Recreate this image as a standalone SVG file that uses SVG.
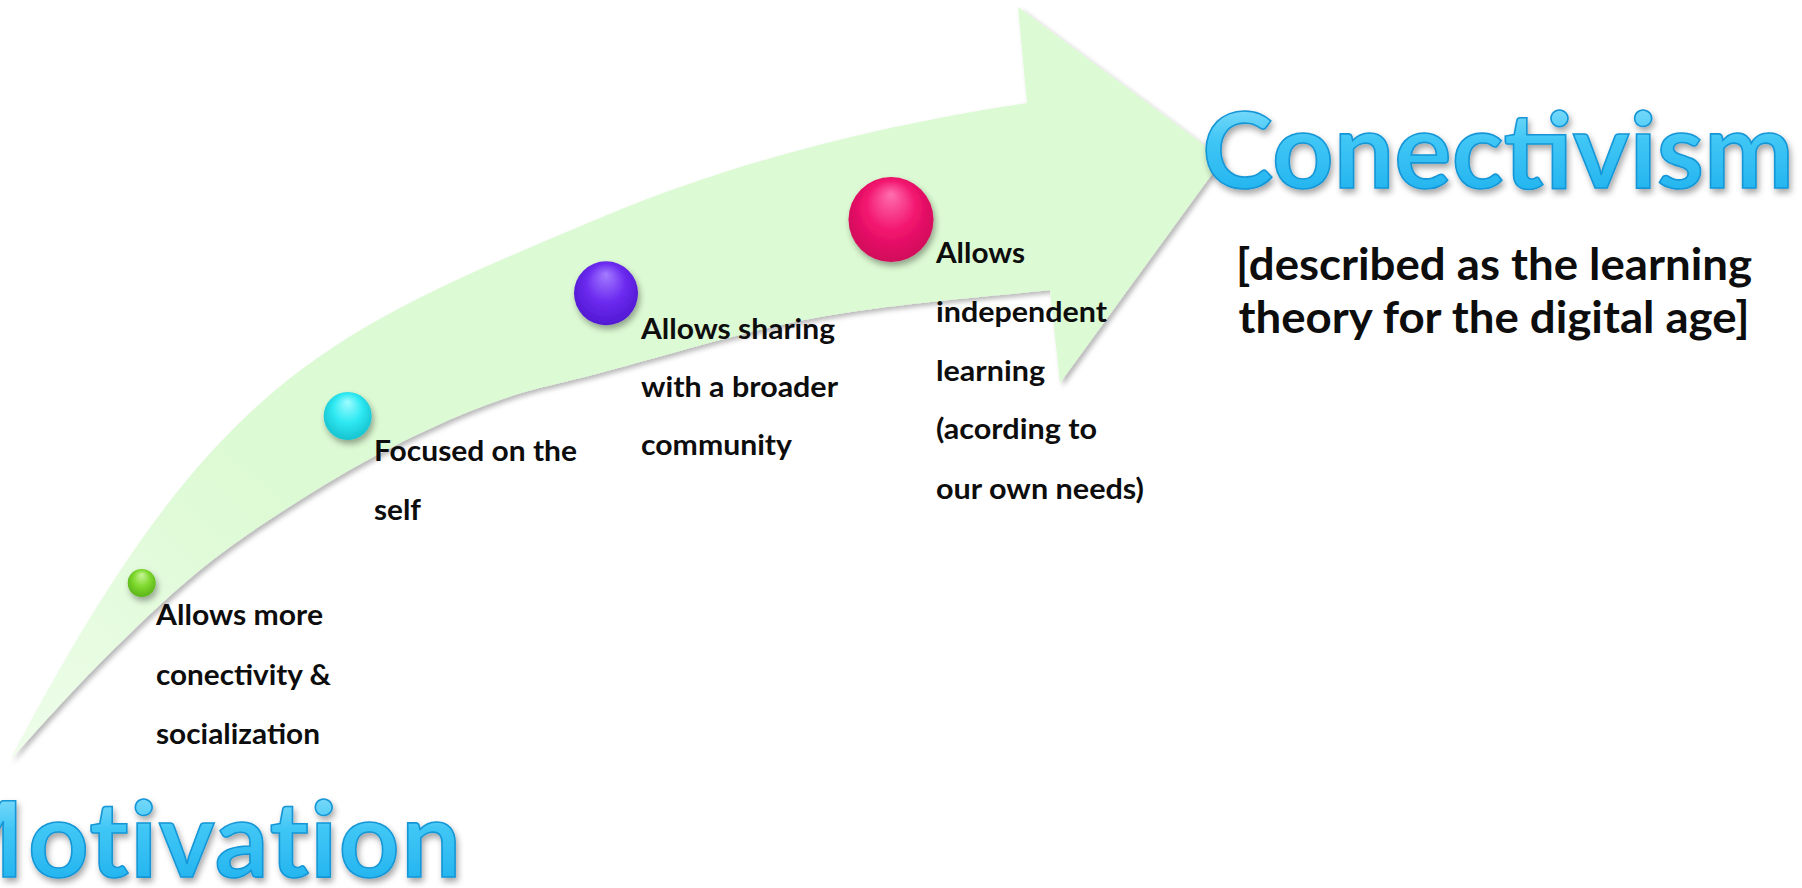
<svg xmlns="http://www.w3.org/2000/svg" width="1802" height="888" viewBox="0 0 1802 888">
<defs>
<style>
.lbl{font-family:Lato,"Open Sans","Liberation Sans",sans-serif;font-weight:700;font-size:29px;fill:#0d0d0d}
.sub{font-family:Lato,"Open Sans","Liberation Sans",sans-serif;font-weight:700;font-size:43px;fill:#0d0d0d}
.title{font-family:Lato,"Open Sans","Liberation Sans",sans-serif;font-weight:700;font-size:106px;fill:url(#blueGrad);stroke:#1496d6;stroke-width:1.6;filter:url(#txtShadow)}
</style>
<linearGradient id="blueGrad" x1="0" y1="0" x2="0" y2="1">
<stop offset="0" stop-color="#a6e8fd"/>
<stop offset="0.45" stop-color="#3fc6f5"/>
<stop offset="1" stop-color="#1aaeee"/>
</linearGradient>
<linearGradient id="bandGrad" gradientUnits="userSpaceOnUse" x1="10" y1="760" x2="260" y2="470">
<stop offset="0" stop-color="#eefdea"/>
<stop offset="1" stop-color="#dcfad3"/>
</linearGradient>
<filter id="arrowShadow" x="-5%" y="-5%" width="110%" height="115%">
<feDropShadow dx="3" dy="3" stdDeviation="2.5" flood-color="#000" flood-opacity="0.28"/>
</filter>
<filter id="txtShadow" x="-5%" y="-10%" width="110%" height="130%">
<feDropShadow dx="2" dy="4" stdDeviation="3" flood-color="#000" flood-opacity="0.35"/>
</filter>
<filter id="dotShadow" x="-40%" y="-40%" width="180%" height="180%">
<feDropShadow dx="2" dy="4" stdDeviation="3" flood-color="#000" flood-opacity="0.35"/>
</filter>
<radialGradient id="gGreen" cx="0.5" cy="0.45" r="0.55" fx="0.5" fy="0.2">
<stop offset="0" stop-color="#c8f59a"/><stop offset="0.55" stop-color="#7fd92e"/><stop offset="1" stop-color="#5cb51a"/>
</radialGradient>
<radialGradient id="gCyan" cx="0.5" cy="0.45" r="0.55" fx="0.5" fy="0.2">
<stop offset="0" stop-color="#9ffcff"/><stop offset="0.55" stop-color="#2fe9f2"/><stop offset="1" stop-color="#17c3d0"/>
</radialGradient>
<radialGradient id="gPurple" cx="0.5" cy="0.45" r="0.55" fx="0.5" fy="0.2">
<stop offset="0" stop-color="#a47cff"/><stop offset="0.55" stop-color="#6c2bf0"/><stop offset="1" stop-color="#5218d2"/>
</radialGradient>
<radialGradient id="gPink" cx="0.5" cy="0.45" r="0.55" fx="0.5" fy="0.2">
<stop offset="0" stop-color="#ff6fae"/><stop offset="0.55" stop-color="#f2146e"/><stop offset="1" stop-color="#d00a5a"/>
</radialGradient>
</defs>
<rect width="1802" height="888" fill="#ffffff"/>

<g id="connectors">
<path id="arrow" filter="url(#arrowShadow)" fill="url(#bandGrad)" d="M10,760 C210,380 320,335.6 600,218 C740,159.2 887,124 1027,103 L1018,7 L1223,159 L1060,383 L1050,290 C1011.7,294.5 895,303.2 820,317 C745,330.8 653.3,359.2 600,373 C546.7,386.8 533.3,388.3 500,400 C466.7,411.7 433.3,426.3 400,443 C366.7,459.7 333.3,478.8 300,500 C266.7,521.2 233.3,542.8 200,570 C166.7,597.2 131.7,631.3 100,663 C68.3,694.7 25,743.8 10,760 Z"/>
</g>

<g id="node-motivation">
<text class="title" x="-76 28" y="877" letter-spacing="1.5">Motivation</text>
</g>

<g id="node-conectivism">
<text class="title" x="1202" y="188" textLength="592" lengthAdjust="spacingAndGlyphs">Conectivism</text>
<text class="sub" x="1494" y="280" text-anchor="middle" textLength="516" lengthAdjust="spacingAndGlyphs">[described as the learning</text>
<text class="sub" x="1494" y="333" text-anchor="middle" textLength="511" lengthAdjust="spacingAndGlyphs">theory for the digital age]</text>
</g>

<g id="node-1">
<circle cx="141.7" cy="583" r="14" fill="url(#gGreen)" filter="url(#dotShadow)"/>
<text class="lbl" x="156" y="625" textLength="167" lengthAdjust="spacingAndGlyphs">Allows more</text>
<text class="lbl" x="156" y="685" textLength="175" lengthAdjust="spacingAndGlyphs">conectivity &amp;</text>
<text class="lbl" x="156" y="744" textLength="164" lengthAdjust="spacingAndGlyphs">socialization</text>
</g>

<g id="node-2">
<circle cx="347.7" cy="416" r="24" fill="url(#gCyan)" filter="url(#dotShadow)"/>
<text class="lbl" x="374" y="461" textLength="203" lengthAdjust="spacingAndGlyphs">Focused on the</text>
<text class="lbl" x="374" y="520" textLength="47" lengthAdjust="spacingAndGlyphs">self</text>
</g>

<g id="node-3">
<circle cx="606" cy="293.3" r="32" fill="url(#gPurple)" filter="url(#dotShadow)"/>
<text class="lbl" x="641" y="339" textLength="194" lengthAdjust="spacingAndGlyphs">Allows sharing</text>
<text class="lbl" x="641" y="397" textLength="197" lengthAdjust="spacingAndGlyphs">with a broader</text>
<text class="lbl" x="641" y="455" textLength="151" lengthAdjust="spacingAndGlyphs">community</text>
</g>

<g id="node-4">
<circle cx="891" cy="219.5" r="42.5" fill="url(#gPink)" filter="url(#dotShadow)"/>
<text class="lbl" x="936" y="263" textLength="89" lengthAdjust="spacingAndGlyphs">Allows</text>
<text class="lbl" x="936" y="322" textLength="171" lengthAdjust="spacingAndGlyphs">independent</text>
<text class="lbl" x="936" y="381" textLength="109" lengthAdjust="spacingAndGlyphs">learning</text>
<text class="lbl" x="936" y="439" textLength="161" lengthAdjust="spacingAndGlyphs">(acording to</text>
<text class="lbl" x="936" y="499" textLength="208" lengthAdjust="spacingAndGlyphs">our own needs)</text>
</g>
</svg>
